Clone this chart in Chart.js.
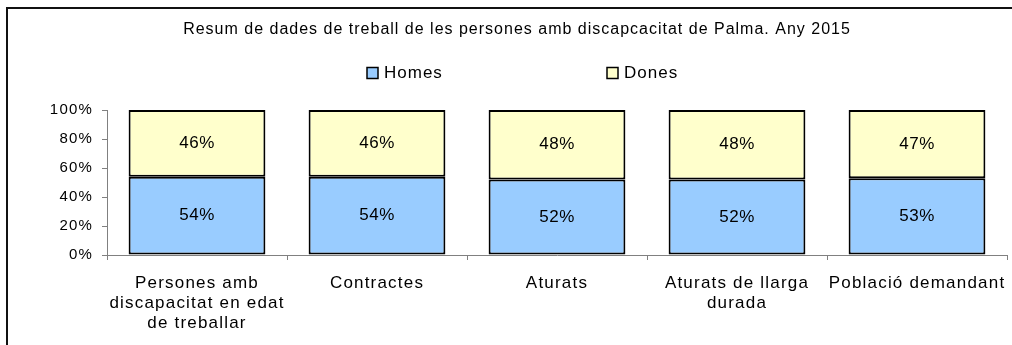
<!DOCTYPE html>
<html>
<head>
<meta charset="utf-8">
<title>Resum de dades de treball</title>
<script src="https://cdn.jsdelivr.net/npm/chart.js@4"></script>
<style>
  html, body { margin: 0; padding: 0; background: #fff; }
  #wrap { width: 1012px; height: 345px; }
</style>
</head>
<body>
<div id="wrap"><canvas id="chart" width="1012" height="345"></canvas></div>
<script>
'use strict';

const TITLE = 'Resum de dades de treball de les persones amb discapcacitat de Palma. Any 2015';

const categories = [
    ['Persones amb', 'discapacitat en edat', 'de treballar'],
    'Contractes',
    'Aturats',
    ['Aturats de llarga', 'durada'],
    'Població demandant'
];

const homes = [54, 54, 52, 52, 53];
const dones = [46, 46, 48, 48, 47];

const yTicks = [0, 20, 40, 60, 80, 100];

const FONT = '"Liberation Sans", Arial, sans-serif';

/* ── Frame, title and legend ───────────────────────────────────── */
const decorPlugin = {
    id: 'decor',
    beforeDraw(chart) {
        const ctx = chart.ctx;
        ctx.save();
        ctx.fillStyle = '#fff';
        ctx.fillRect(0, 0, chart.width, chart.height);
        ctx.strokeStyle = '#111';
        ctx.lineWidth = 2;
        ctx.strokeRect(7, 8, chart.width + 10, chart.height + 10);
        ctx.restore();
        // axis labels are drawn slightly spaced out
        ctx.letterSpacing = '1.2px';
    },
    beforeDatasetsDraw(chart) {
        chart.ctx.letterSpacing = '0px';
    },
    afterDraw(chart) {
        const ctx = chart.ctx;
        ctx.save();
        ctx.fillStyle = '#000';
        ctx.textBaseline = 'middle';

        // title
        ctx.letterSpacing = '1px';
        ctx.font = '16px ' + FONT;
        ctx.textAlign = 'center';
        ctx.fillText(TITLE, 517, 30);

        // legend
        ctx.font = '17px ' + FONT;
        ctx.textAlign = 'left';
        const legendX = [367, 607];
        chart.data.datasets.forEach((ds, i) => {
            const x = legendX[i];
            ctx.fillStyle = ds.backgroundColor;
            ctx.fillRect(x, 67.5, 11, 11);
            ctx.strokeStyle = '#000';
            ctx.lineWidth = 1.5;
            ctx.strokeRect(x, 67.5, 11, 11);
            ctx.fillStyle = '#000';
            ctx.fillText(ds.label, x + 17, 73);
        });
        ctx.restore();
    }
};

/* ── Percentage labels inside each segment ─────────────────────── */
const valueLabels = {
    id: 'valueLabels',
    afterDatasetsDraw(chart) {
        const ctx = chart.ctx;
        ctx.save();
        ctx.font = '17px ' + FONT;
        ctx.letterSpacing = '0.5px';
        ctx.fillStyle = '#000';
        ctx.textAlign = 'center';
        ctx.textBaseline = 'middle';
        chart.data.datasets.forEach((ds, di) => {
            const meta = chart.getDatasetMeta(di);
            meta.data.forEach((bar, i) => {
                const p = bar.getCenterPoint();
                ctx.fillText(ds.data[i] + '%', p.x, p.y);
            });
        });
        ctx.restore();
    }
};

const barStyle = {
    borderColor: '#000',
    borderWidth: 2,
    borderSkipped: false,
    barPercentage: 0.76,
    categoryPercentage: 1
};

new Chart(document.getElementById('chart'), {
    type: 'bar',
    data: {
        labels: categories,
        datasets: [
            { label: 'Homes', data: homes, backgroundColor: '#99ccff', ...barStyle },
            { label: 'Dones', data: dones, backgroundColor: '#ffffcc', ...barStyle }
        ]
    },
    options: {
        responsive: false,
        animation: false,
        layout: { padding: { top: 110, left: 10, right: 5, bottom: 0 } },
        plugins: {
            legend: { display: false },
            title: { display: false },
            tooltip: { enabled: false }
        },
        scales: {
            x: {
                stacked: true,
                afterFit: s => { s.height = 90; },
                grid: {
                    offset: true,
                    drawOnChartArea: false,
                    tickLength: 5,
                    tickColor: '#808080'
                },
                border: { color: '#808080', width: 1 },
                ticks: {
                    color: '#000',
                    padding: 13,
                    maxRotation: 0,
                    autoSkip: false,
                    font: { family: FONT, size: 17, lineHeight: 1.18 }
                }
            },
            y: {
                stacked: true,
                min: 0,
                max: 100,
                afterFit: s => { s.width = 97; },
                afterBuildTicks: s => { s.ticks = yTicks.map(v => ({ value: v })); },
                grid: {
                    drawOnChartArea: false,
                    tickLength: 5,
                    tickColor: '#808080'
                },
                border: { color: '#808080', width: 1 },
                ticks: {
                    color: '#000',
                    padding: 9,
                    font: { family: FONT, size: 15 },
                    callback: v => v + '%'
                }
            }
        }
    },
    plugins: [decorPlugin, valueLabels]
});
</script>
</body>
</html>
